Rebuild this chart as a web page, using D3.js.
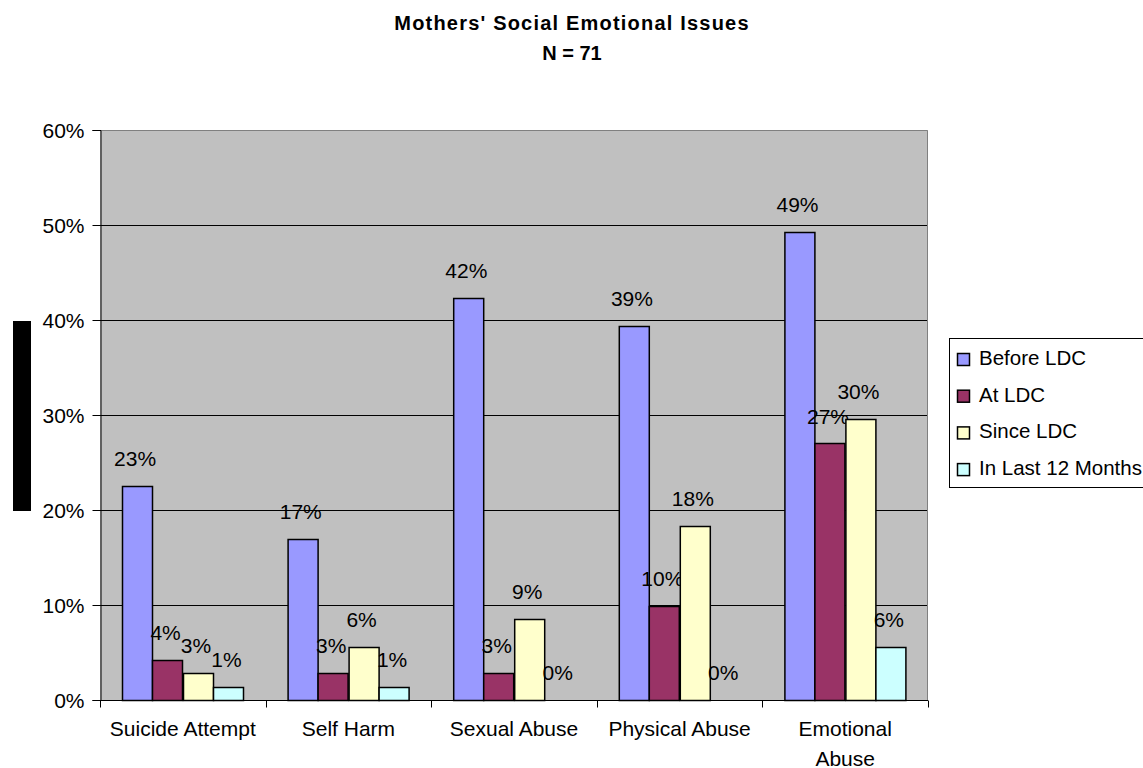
<!DOCTYPE html>
<html>
<head>
<meta charset="utf-8">
<script src="https://cdn.jsdelivr.net/npm/d3@7"></script>
<style>
  body { margin: 0; background: #fff; }
  text { font-family: Arial, "Liberation Sans", sans-serif; fill: #000; }
</style>
</head>
<body>
<svg id="chart" width="1143" height="768"></svg>
<script>
// data
var categories = ['Suicide Attempt', 'Self Harm', 'Sexual Abuse', 'Physical Abuse', 'Emotional Abuse'];
var seriesNames = ['Before LDC', 'At LDC', 'Since LDC', 'In Last 12 Months'];
var beforeLDC = [0.225, 0.169, 0.423, 0.394, 0.493];
var atLDC     = [0.042, 0.028, 0.028, 0.099, 0.270];
var sinceLDC  = [0.028, 0.056, 0.085, 0.183, 0.296];
var last12    = [0.014, 0.014, 0, 0, 0.056];
var seriesColors = ['#9999FF', '#993366', '#FFFFCC', '#CCFFFF'];
var yTicks = [0, 0.1, 0.2, 0.3, 0.4, 0.5, 0.6];

var allSeries = [beforeLDC, atLDC, sinceLDC, last12];

var svg = d3.select('#chart');

var plot = { left: 100, right: 928, top: 130, bottom: 700 };
var fontSize = '21px';

// scales
var x0 = d3.scaleBand()
  .domain(categories)
  .range([plot.left, plot.right])
  .paddingInner(0)
  .paddingOuter(0);

var x1 = d3.scaleBand()
  .domain(seriesNames)
  .range([0, x0.bandwidth()])
  .paddingInner(0)
  .paddingOuter(0.72);

var y = d3.scaleLinear()
  .domain([0, 0.6])
  .range([plot.bottom, plot.top]);

var pct = d3.format('.0%');

/**
 * Title
 */
var title = svg.append('text')
  .attr('x', 572)
  .attr('text-anchor', 'middle')
  .style('font-weight', 'bold')
  .style('font-size', '20px');
title.append('tspan')
  .attr('x', 572).attr('y', 30)
  .style('letter-spacing', '1.2px')
  .text("Mothers' Social Emotional Issues");
title.append('tspan')
  .attr('x', 572).attr('y', 60)
  .text('N = 71');

/**
 * Plot background
 */
svg.append('rect')
  .attr('x', plot.left)
  .attr('y', plot.top)
  .attr('width', plot.right - plot.left)
  .attr('height', plot.bottom - plot.top)
  .attr('fill', '#C0C0C0');

// gridlines
svg.append('g')
  .selectAll('line')
  .data(yTicks.filter(function (t) { return t > 0 && t < 0.6; }))
  .enter()
  .append('line')
  .attr('x1', plot.left)
  .attr('x2', plot.right)
  .attr('y1', function (d) { return Math.round(y(d)) + 0.5; })
  .attr('y2', function (d) { return Math.round(y(d)) + 0.5; })
  .attr('stroke', '#000')
  .attr('stroke-width', 1);

// top + right border (grey)
svg.append('path')
  .attr('d', 'M' + plot.left + ',' + (plot.top + 0.5) + 'H' + (plot.right - 0.5) + 'V' + plot.bottom)
  .attr('fill', 'none')
  .attr('stroke', '#808080');

/**
 * Bars
 */
var groups = svg.append('g')
  .selectAll('g.cat')
  .data(categories)
  .enter()
  .append('g')
  .attr('class', 'cat')
  .attr('transform', function (d) { return 'translate(' + x0(d) + ',0)'; });

var bars = groups.selectAll('g.bar')
  .data(function (d, i) {
    return seriesNames.map(function (s, j) {
      return { series: s, value: allSeries[j][i], color: seriesColors[j] };
    });
  })
  .enter()
  .append('g')
  .attr('class', 'bar');

bars.filter(function (d) { return d.value > 0; })
  .append('rect')
  .attr('x', function (d) { return Math.round(x1(d.series)) + 0.5; })
  .attr('y', function (d) { return Math.round(y(d.value)) + 0.5; })
  .attr('width', function (d) { return Math.round(x1.bandwidth()); })
  .attr('height', function (d) { return plot.bottom - Math.round(y(d.value)); })
  .attr('fill', function (d) { return d.color; })
  .attr('stroke', '#000')
  .attr('stroke-width', 1.5);

bars.append('text')
  .attr('x', function (d) { return x1(d.series) + x1.bandwidth() / 2 - 2; })
  .attr('y', function (d) { return y(d.value) - 20; })
  .attr('text-anchor', 'middle')
  .style('font-size', fontSize)
  .text(function (d) { return pct(d.value); });

/**
 * Axes
 */
var yAxis = svg.append('g')
  .attr('transform', 'translate(' + (plot.left + 0.5) + ',0)')
  .call(d3.axisLeft(y).tickValues(yTicks).tickFormat(pct).tickSize(8).tickPadding(8));
yAxis.select('.domain').attr('stroke', '#000');
yAxis.selectAll('.tick line').attr('stroke', '#000');
yAxis.selectAll('.tick text')
  .attr('dy', '0.35em')
  .style('font-size', fontSize)
  .style('font-family', 'Arial, "Liberation Sans", sans-serif');

var xAxis = svg.append('g')
  .attr('transform', 'translate(0,' + (plot.bottom + 0.5) + ')');
xAxis.append('line')
  .attr('x1', plot.left)
  .attr('x2', plot.right)
  .attr('stroke', '#000');
var boundaries = categories.map(function (c) { return x0(c); }).concat([plot.right]);
xAxis.selectAll('line.tick')
  .data(boundaries)
  .enter()
  .append('line')
  .attr('class', 'tick')
  .attr('x1', function (d) { return Math.round(d) + 0.5; })
  .attr('x2', function (d) { return Math.round(d) + 0.5; })
  .attr('y1', 0)
  .attr('y2', 7)
  .attr('stroke', '#000');

var xLabels = xAxis.selectAll('text.cat-label')
  .data(categories)
  .enter()
  .append('text')
  .attr('class', 'cat-label')
  .attr('text-anchor', 'middle')
  .style('font-size', fontSize)
  .attr('y', 35);

// simple word wrap, max width narrower than the band like excel does
xLabels.each(function (d) {
  var el = d3.select(this);
  var cx = x0(d) + x0.bandwidth() / 2;
  var words = d.split(' ');
  var line = [];
  var lineNo = 0;
  var tspan = el.append('tspan').attr('x', cx).attr('y', 35);
  words.forEach(function (w) {
    line.push(w);
    tspan.text(line.join(' '));
    if (tspan.node().getComputedTextLength() > 152 && line.length > 1) {
      line.pop();
      tspan.text(line.join(' '));
      line = [w];
      lineNo++;
      tspan = el.append('tspan').attr('x', cx).attr('y', 35 + lineNo * 30).text(w);
    }
  });
});

/**
 * Black block left of the axis
 */
svg.append('rect')
  .attr('x', 13)
  .attr('y', 321)
  .attr('width', 18)
  .attr('height', 190)
  .attr('fill', '#000');

/**
 * Legend
 */
var legend = svg.append('g')
  .attr('transform', 'translate(949,338)');
legend.append('rect')
  .attr('x', 0.5)
  .attr('y', 0.5)
  .attr('width', 220)
  .attr('height', 149)
  .attr('fill', '#fff')
  .attr('stroke', '#000');

var legendItems = legend.selectAll('g.item')
  .data(seriesNames)
  .enter()
  .append('g')
  .attr('class', 'item')
  .attr('transform', function (d, i) { return 'translate(0,' + (27 + i * 36.7) + ')'; });
legendItems.append('rect')
  .attr('x', 8.5)
  .attr('y', -11.5)
  .attr('width', 12)
  .attr('height', 12)
  .attr('fill', function (d, i) { return seriesColors[i]; })
  .attr('stroke', '#000')
  .attr('stroke-width', 1.5);
legendItems.append('text')
  .attr('x', 30)
  .attr('y', 0)
  .style('font-size', '20.5px')
  .text(function (d) { return d; });
</script>
</body>
</html>
